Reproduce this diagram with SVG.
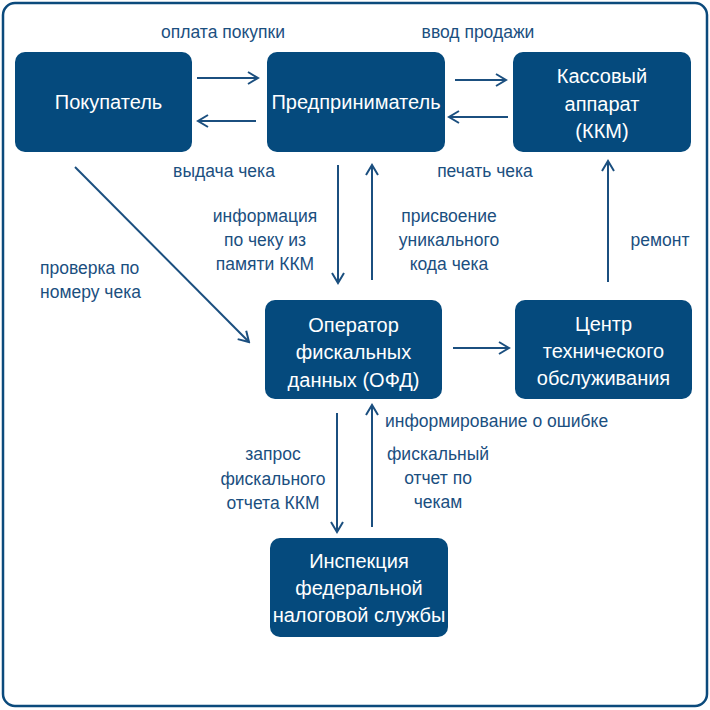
<svg xmlns="http://www.w3.org/2000/svg" width="710" height="710" viewBox="0 0 710 710">
<defs>
<style>
.frame{fill:#fff;stroke:#0b4a7c;stroke-width:2.5}
.node rect{fill:#054a7d}
.node text{fill:#fff;font-family:"Liberation Sans",Arial,sans-serif;font-size:20px;text-anchor:middle}
.lbl{fill:#1b4f7f;font-family:"Liberation Sans",Arial,sans-serif;font-size:17.5px;text-anchor:middle}
.lbl.l{text-anchor:start}
.conn line{stroke:#1b4f7f;stroke-width:2;marker-end:url(#ah)}
</style>
<marker id="ah" markerUnits="userSpaceOnUse" markerWidth="14" markerHeight="16" viewBox="0 0 14 16" refX="12" refY="8" orient="auto">
<path d="M2,2 L12,8 L2,14" fill="none" stroke="#1b4f7f" stroke-width="2"/>
</marker>
</defs>
<rect class="frame" x="3" y="3" width="704" height="703" rx="12"/>

<g id="pokupatel" class="node"><rect x="15" y="52" width="177" height="100" rx="10"/><text x="108.5" y="109">Покупатель</text></g>
<g id="predprinimatel" class="node"><rect x="267" y="52" width="178" height="100" rx="10"/><text x="356" y="109">Предприниматель</text></g>
<g id="kkm" class="node"><rect x="513" y="52" width="178" height="100" rx="10"/><text x="602" y="83">Кассовый</text><text x="602" y="111">аппарат</text><text x="602" y="138">(ККМ)</text></g>
<g id="ofd" class="node"><rect x="265" y="300" width="177" height="99" rx="10"/><text x="353.5" y="332">Оператор</text><text x="353.5" y="359">фискальных</text><text x="353.5" y="387">данных (ОФД)</text></g>
<g id="cto" class="node"><rect x="515" y="300" width="177" height="99" rx="10"/><text x="603.5" y="331">Центр</text><text x="603.5" y="358">технического</text><text x="603.5" y="385">обслуживания</text></g>
<g id="ifns" class="node"><rect x="270" y="538" width="178" height="99" rx="10"/><text x="359" y="568">Инспекция</text><text x="359" y="595">федеральной</text><text x="359" y="622">налоговой службы</text></g>

<g id="connectors" class="conn">
<line x1="197" y1="78" x2="258" y2="78"/>
<line x1="256" y1="121" x2="198" y2="121"/>
<line x1="455" y1="80" x2="506" y2="80"/>
<line x1="508" y1="117" x2="449" y2="117"/>
<line x1="75" y1="167" x2="249" y2="342"/>
<line x1="338" y1="165" x2="338" y2="283"/>
<line x1="372" y1="280" x2="372" y2="165"/>
<line x1="608" y1="282" x2="608" y2="161"/>
<line x1="453" y1="348" x2="509" y2="348"/>
<line x1="337" y1="413" x2="337" y2="532"/>
<line x1="372" y1="527" x2="372" y2="405"/>
</g>

<g id="labels">
<text class="lbl" x="223" y="38">оплата покупки</text>
<text class="lbl" x="478" y="38">ввод продажи</text>
<text class="lbl" x="224" y="177">выдача чека</text>
<text class="lbl" x="485" y="177">печать чека</text>
<text class="lbl" x="265" y="222">информация</text>
<text class="lbl" x="265" y="246">по чеку из</text>
<text class="lbl" x="265" y="270">памяти ККМ</text>
<text class="lbl" x="449" y="222">присвоение</text>
<text class="lbl" x="449" y="246">уникального</text>
<text class="lbl" x="449" y="270">кода чека</text>
<text class="lbl l" x="40" y="274">проверка по</text>
<text class="lbl l" x="40" y="298">номеру чека</text>
<text class="lbl" x="660" y="246">ремонт</text>
<text class="lbl l" x="385" y="427">информирование о ошибке</text>
<text class="lbl" x="273" y="460">запрос</text>
<text class="lbl" x="273" y="485">фискального</text>
<text class="lbl" x="273" y="509">отчета ККМ</text>
<text class="lbl" x="438" y="460">фискальный</text>
<text class="lbl" x="438" y="484">отчет по</text>
<text class="lbl" x="438" y="508">чекам</text>
</g>
</svg>
